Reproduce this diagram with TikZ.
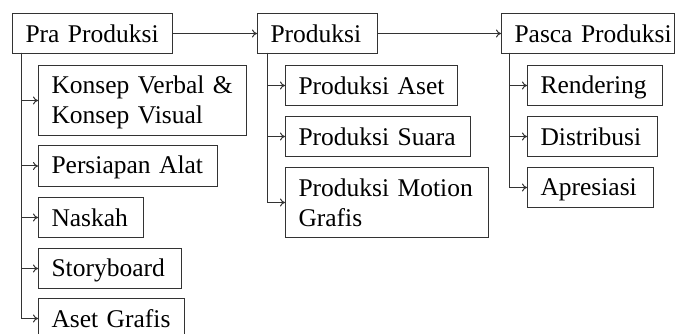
\documentclass[tikz,border=0pt]{standalone}
\usepackage{fontspec}
\setmainfont{Liberation Serif}
\usetikzlibrary{arrows.meta}
\newcommand\boxline[1]{\mbox{\rule[-3pt]{0pt}{24pt}#1}}
\begin{document}
\begin{tikzpicture}[x=1pt,y=-1pt,
  box/.style={draw=black!80, line width=1pt, anchor=north west, inner xsep=13pt, inner ysep=0pt,
    align=left, font=\fontsize{25.5}{30}\selectfont, text=black},
  conn/.style={draw=black!80, line width=1pt, -{To[length=5pt,width=8pt]}}]
\useasboundingbox (0,0) rectangle (675,334);
% columns headers
\node[box, minimum width=160, minimum height=40, text width=134] (pra) at (12,13) {\boxline{Pra Produksi}};
\node[box, minimum width=120, minimum height=40, text width=94] (pro) at (257,13) {\boxline{Produksi}};
\node[box, minimum width=173, minimum height=40, text width=147] (pas) at (501,13) {\boxline{Pasca Produksi}};
% pra children
\node[box, minimum width=208, minimum height=70, text width=182] (k1) at (38,65) {\boxline{Konsep Verbal \&}\\\boxline{Konsep Visual}};
\node[box, minimum width=179, minimum height=41, text width=153] (k2) at (38,145) {\boxline{Persiapan Alat}};
\node[box, minimum width=105, minimum height=40, text width=79] (k3) at (38,197) {\boxline{Naskah}};
\node[box, minimum width=143, minimum height=40, text width=117] (k4) at (38,248) {\boxline{Storyboard}};
\node[box, minimum width=146, minimum height=40, text width=120] (k5) at (38,298) {\boxline{Aset Grafis}};
% produksi children
\node[box, minimum width=172, minimum height=40, text width=146] (p1) at (285,65) {\boxline{Produksi Aset}};
\node[box, minimum width=185, minimum height=40, text width=159] (p2) at (285,116) {\boxline{Produksi Suara}};
\node[box, minimum width=203, minimum height=70, text width=177] (p3) at (285,167) {\boxline{Produksi Motion}\\\boxline{Grafis}};
% pasca children
\node[box, minimum width=135, minimum height=40, text width=109] (s1) at (527,65) {\boxline{Rendering}};
\node[box, minimum width=130, minimum height=40, text width=104] (s2) at (527,116) {\boxline{Distribusi}};
\node[box, minimum width=126, minimum height=40, text width=100] (s3) at (527,167) {\boxline{Apresiasi}};
% main flow
\draw[conn] (pra.east) -- (pro.west);
\draw[conn] (pro.east) -- (pas.west);
% trunks
\coordinate (ta) at (21,53);
\coordinate (tb) at (267,53);
\coordinate (tc) at (509,53);
\foreach \c in {k1,k2,k3,k4,k5} \draw[conn] (ta) |- (\c.west);
\foreach \c in {p1,p2,p3} \draw[conn] (tb) |- (\c.west);
\foreach \c in {s1,s2,s3} \draw[conn] (tc) |- (\c.west);
\end{tikzpicture}
\end{document}
